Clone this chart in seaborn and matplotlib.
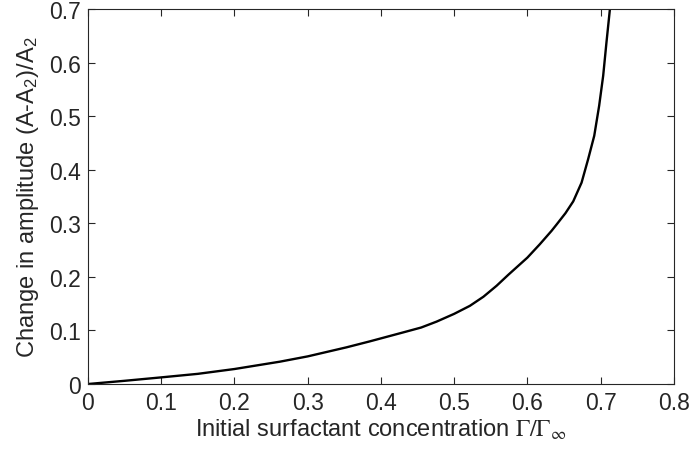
import numpy as np
import pandas as pd
import matplotlib
matplotlib.use("Agg")
import matplotlib.pyplot as plt
import seaborn as sns

# values
conc = [0.0, 0.05, 0.1, 0.15, 0.2, 0.262, 0.3, 0.353, 0.385, 0.4305, 0.455, 0.476, 0.5, 0.5215,
        0.54, 0.558, 0.574, 0.6, 0.617, 0.633, 0.64, 0.652, 0.6626, 0.674, 0.683, 0.6913,
        0.698, 0.7035, 0.708, 0.7127]
amp_change = [0.0, 0.006, 0.0124, 0.019, 0.028, 0.0417, 0.0516, 0.0685, 0.0797, 0.0964, 0.1055, 0.1165, 0.131, 0.146,
              0.163, 0.1835, 0.204, 0.236, 0.261, 0.286, 0.298, 0.319, 0.341, 0.376, 0.42, 0.4635,
              0.5195, 0.5755, 0.638, 0.70]

x_ticks = [0, 0.1, 0.2, 0.3, 0.4, 0.5, 0.6, 0.7, 0.8]
y_ticks = [0, 0.1, 0.2, 0.3, 0.4, 0.5, 0.6, 0.7]

df = pd.DataFrame({"conc": conc, "amp": amp_change})

sns.set_style("ticks")
plt.rcParams['font.family'] = ['Liberation Sans', 'DejaVu Sans']
plt.rcParams['mathtext.fontset'] = 'custom'
plt.rcParams['mathtext.rm'] = 'Liberation Sans'
plt.rcParams['mathtext.it'] = 'Liberation Sans'

fig = plt.figure(figsize=(6.89, 4.60), dpi=100)
ax = fig.add_axes([0.1277, 0.163, 0.978 - 0.1277, 0.978 - 0.163])

sns.lineplot(data=df, x="conc", y="amp", color="black", linewidth=1.7, ax=ax)

ax.set_xlim(0, 0.8)
ax.set_ylim(0, 0.7)
ax.set_xticks(x_ticks)
ax.set_yticks(y_ticks)
ax.set_xticklabels([f"{t:g}" for t in x_ticks])
ax.set_yticklabels([f"{t:g}" for t in y_ticks])

for s in ax.spines.values():
    s.set_visible(True)
    s.set_color("#262626")
    s.set_linewidth(0.8)
ax.tick_params(direction="in", length=5, width=0.8, color="#262626",
               top=True, right=True, labelsize=16.5, labelcolor="#262626", pad=5)

xl = ax.set_xlabel(r"Initial surfactant concentration $\Gamma/\Gamma_{\infty}$",
                   fontsize=17, color="#262626", labelpad=2)
xl.set_math_fontfamily("stix")
ax.set_ylabel(r"Change in amplitude (A-A$_2$)/A$_2$", fontsize=17, color="#262626", labelpad=6)

fig.savefig("out.png", dpi=100)
